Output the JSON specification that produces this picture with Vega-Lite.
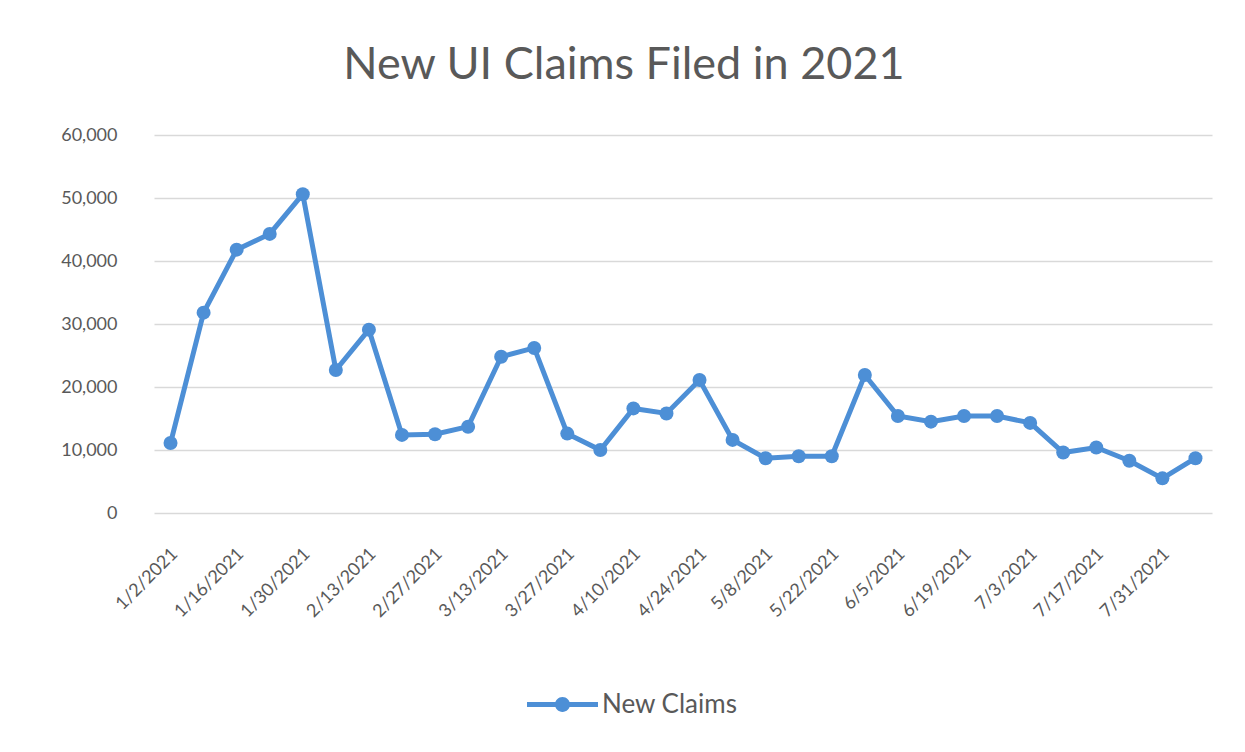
{
  "$schema": "https://vega.github.io/schema/vega-lite/v6.json",
  "autosize": {"type": "none"},
  "width": 1058,
  "height": 378,
  "padding": {"left": 154, "top": 135, "right": 33, "bottom": 239},
  "background": "white",
  "title": {
    "text": "New UI Claims Filed in 2021",
    "font": "Lato",
    "fontSize": 45,
    "fontWeight": "normal",
    "color": "#595959",
    "anchor": "middle",
    "dx": -59,
    "baseline": "alphabetic",
    "offset": 2
  },
  "data": {
    "values": [
      {"week": "1/2/2021", "claims": 11100},
      {"week": "1/9/2021", "claims": 31800},
      {"week": "1/16/2021", "claims": 41800},
      {"week": "1/23/2021", "claims": 44300},
      {"week": "1/30/2021", "claims": 50600},
      {"week": "2/6/2021", "claims": 22700},
      {"week": "2/13/2021", "claims": 29100},
      {"week": "2/20/2021", "claims": 12400},
      {"week": "2/27/2021", "claims": 12500},
      {"week": "3/6/2021", "claims": 13700},
      {"week": "3/13/2021", "claims": 24800},
      {"week": "3/20/2021", "claims": 26200},
      {"week": "3/27/2021", "claims": 12600},
      {"week": "4/3/2021", "claims": 10000},
      {"week": "4/10/2021", "claims": 16600},
      {"week": "4/17/2021", "claims": 15800},
      {"week": "4/24/2021", "claims": 21100},
      {"week": "5/1/2021", "claims": 11600},
      {"week": "5/8/2021", "claims": 8700},
      {"week": "5/15/2021", "claims": 9000},
      {"week": "5/22/2021", "claims": 9000},
      {"week": "5/29/2021", "claims": 21900},
      {"week": "6/5/2021", "claims": 15400},
      {"week": "6/12/2021", "claims": 14500},
      {"week": "6/19/2021", "claims": 15400},
      {"week": "6/26/2021", "claims": 15400},
      {"week": "7/3/2021", "claims": 14300},
      {"week": "7/10/2021", "claims": 9600},
      {"week": "7/17/2021", "claims": 10400},
      {"week": "7/24/2021", "claims": 8300},
      {"week": "7/31/2021", "claims": 5500},
      {"week": "8/7/2021", "claims": 8700}
    ]
  },
  "mark": {
    "type": "line",
    "strokeWidth": 5,
    "point": {"size": 196, "filled": true, "opacity": 1}
  },
  "encoding": {
    "x": {
      "field": "week",
      "type": "ordinal",
      "sort": null,
      "scale": {"type": "point", "padding": 0.5},
      "axis": {
        "title": null,
        "values": ["1/2/2021", "1/16/2021", "1/30/2021", "2/13/2021", "2/27/2021", "3/13/2021", "3/27/2021", "4/10/2021", "4/24/2021", "5/8/2021", "5/22/2021", "6/5/2021", "6/19/2021", "7/3/2021", "7/17/2021", "7/31/2021"],
        "labelAngle": -45,
        "labelAlign": "right",
        "labelBaseline": "middle",
        "labelPadding": 38,
        "labelOffset": 4,
        "labelFont": "Lato",
        "labelFontSize": 18,
        "labelColor": "#595959",
        "labelOverlap": false,
        "domain": false,
        "ticks": false,
        "grid": false
      }
    },
    "y": {
      "field": "claims",
      "type": "quantitative",
      "scale": {"domain": [0, 60000]},
      "axis": {
        "title": null,
        "values": [0, 10000, 20000, 30000, 40000, 50000, 60000],
        "format": ",d",
        "labelFont": "Lato",
        "labelFontSize": 18,
        "labelColor": "#595959",
        "labelPadding": 37,
        "domain": false,
        "ticks": false,
        "grid": true,
        "gridColor": "#D9D9D9",
        "gridWidth": 1.5
      }
    },
    "color": {
      "datum": "New Claims",
      "type": "nominal",
      "scale": {"range": ["#4D8FD6"]},
      "legend": {
        "title": null,
        "orient": "none",
        "legendX": 373,
        "legendY": 534,
        "symbolSize": 5041,
        "labelFont": "Lato",
        "labelFontSize": 26,
        "labelColor": "#595959",
        "labelOffset": 4,
        "encode": {
          "symbols": {
            "update": {
              "shape": {"value": "M-1,-0.07 L1,-0.07 L1,0.07 L-1,0.07 Z M-0.21,0 A0.21,0.21 0 1,1 0.21,0 A0.21,0.21 0 1,1 -0.21,0 Z"},
              "fill": {"value": "#4D8FD6"},
              "fillOpacity": {"value": 1},
              "stroke": {"value": "transparent"},
              "strokeWidth": {"value": 0}
            }
          }
        }
      }
    }
  },
  "config": {
    "view": {"stroke": null}
  }
}
